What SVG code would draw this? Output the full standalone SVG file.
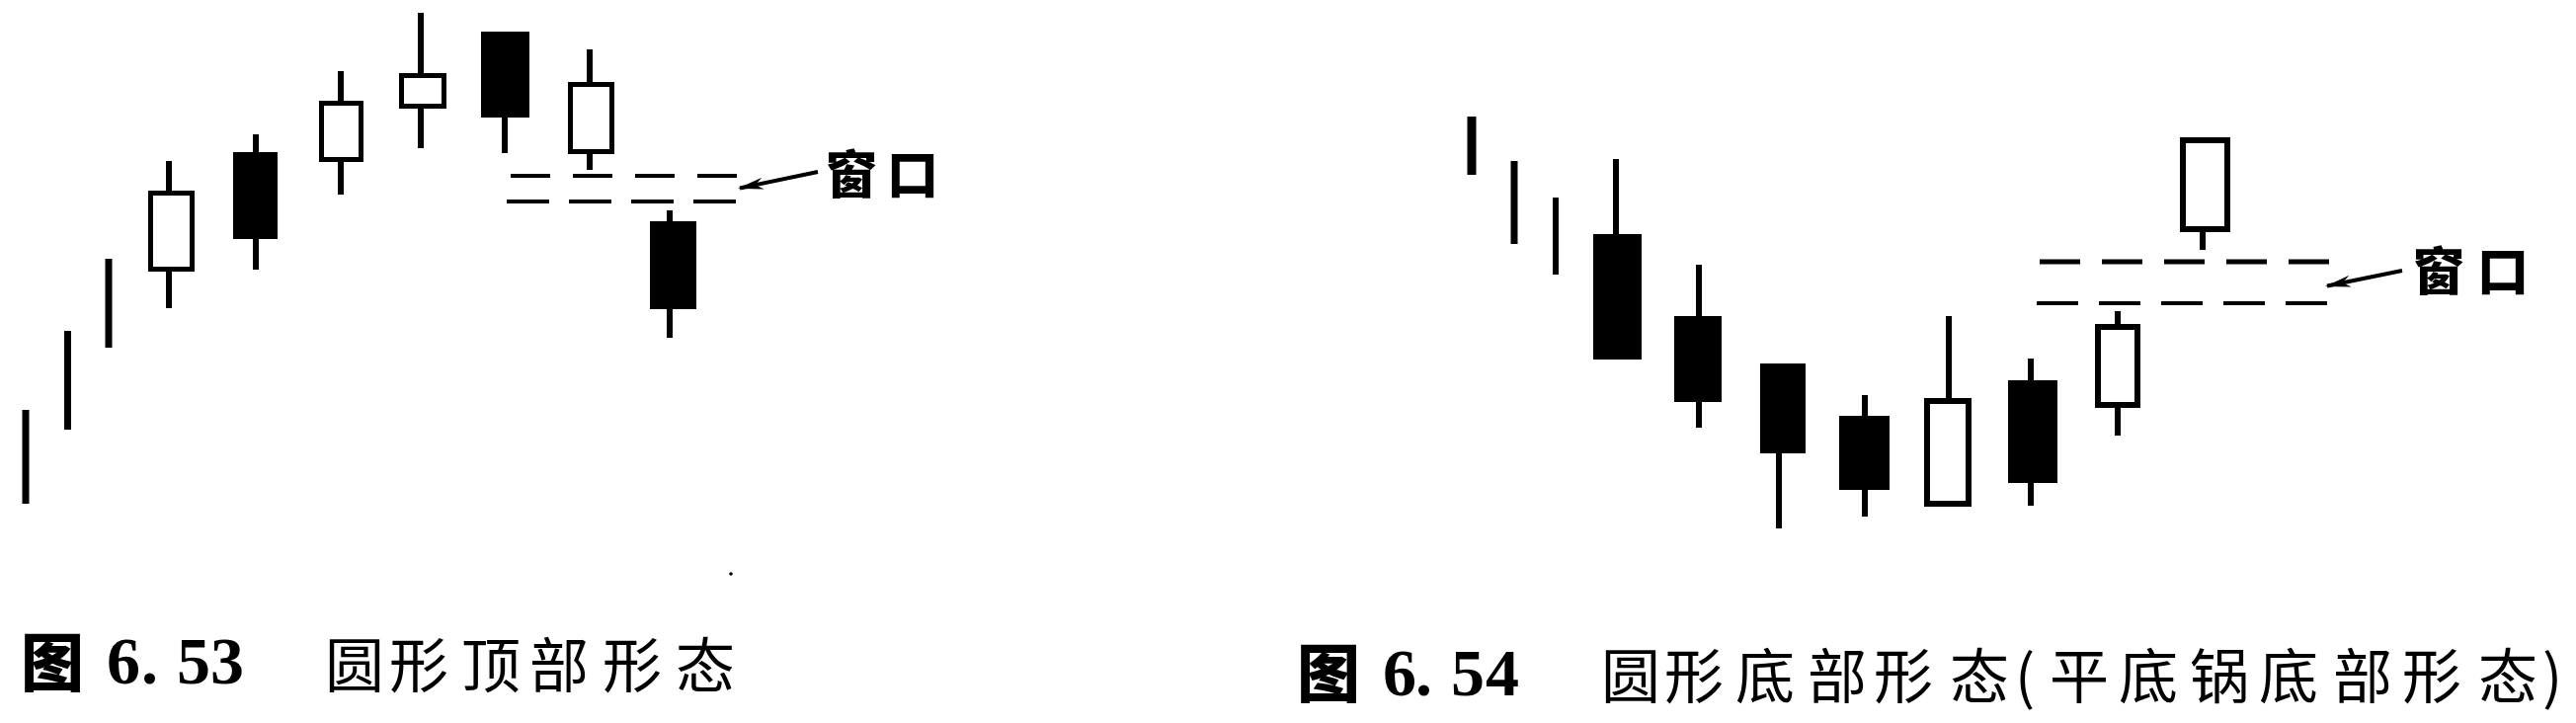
<svg xmlns="http://www.w3.org/2000/svg" width="2608" height="732" viewBox="0 0 2608 732">
  <defs>
    <style>
      .wick { stroke: #000; stroke-width: 6; fill: none; }
      .bar { stroke: #000; stroke-width: 7; fill: none; }
      .blk { fill: #000; }
      .wht { fill: #fff; stroke: #000; stroke-width: 5; }
      .wht6 { fill: #fff; stroke: #000; stroke-width: 6; }
      .dash { stroke: #000; stroke-width: 4; fill: none; }
      .arrow { stroke: #000; stroke-width: 4; fill: none; marker-end: url(#head); }
      .label { font-family: "Noto Sans CJK SC", "Noto Sans", sans-serif; font-weight: 900; font-size: 52px; fill: #000; }
      .cap { font-family: "Noto Sans CJK SC", "Noto Sans", sans-serif; font-size: 60px; fill: #000; }
      .tu { font-family: "Noto Sans CJK SC", sans-serif; font-weight: 900; font-size: 64px; fill: #000; }
      .num { font-family: "Liberation Serif", "Times New Roman", serif; font-weight: bold; font-size: 68px; fill: #000; }
    </style>
    <marker id="head" markerUnits="userSpaceOnUse" markerWidth="30" markerHeight="16" viewBox="-26 -8 30 16" refX="0" refY="0" orient="auto">
      <path d="M2,0 L-24,-6 L-16,0 L-24,6 Z" fill="#000"/>
    </marker>
  </defs>
  <rect x="0" y="0" width="2608" height="732" fill="#fff"/>

  <!-- Figure 6.53 -->
  <g id="fig653">
    <g id="L1"><line class="bar" x1="26" y1="415" x2="26" y2="510"/></g>
    <g id="L2"><line class="bar" x1="68.5" y1="335" x2="68.5" y2="435"/></g>
    <g id="L3"><line class="bar" x1="110" y1="262" x2="110" y2="352"/></g>
    <g id="L4"><line class="wick" x1="171" y1="163" x2="171" y2="312"/><rect class="wht" x="152.5" y="195.5" width="42" height="77"/></g>
    <g id="L5"><line class="wick" x1="259" y1="136" x2="259" y2="273"/><rect class="blk" x="236" y="154" width="45" height="88"/></g>
    <g id="L6"><line class="wick" x1="345" y1="72" x2="345" y2="197"/><rect class="wht" x="325.5" y="104.5" width="40" height="57"/></g>
    <g id="L7"><line class="wick" x1="426" y1="13" x2="426" y2="150"/><rect class="wht" x="406.5" y="76.5" width="43" height="31"/></g>
    <g id="L8"><line class="wick" x1="511" y1="100" x2="511" y2="155"/><rect class="blk" x="487" y="32" width="49" height="87"/></g>
    <g id="L9"><line class="wick" x1="597" y1="50" x2="597" y2="172"/><rect class="wht" x="577.5" y="85.5" width="42" height="68"/></g>
    <g id="L10"><line class="wick" x1="678" y1="213" x2="678" y2="342"/><rect class="blk" x="658" y="224" width="47" height="89"/></g>
    <g id="window653">
      <line class="dash" x1="517" y1="178" x2="746" y2="178" stroke-dasharray="40 23"/>
      <line class="dash" x1="513" y1="204" x2="745" y2="204" stroke-dasharray="43 20"/>
    </g>
    <g id="label653"><text class="label" x="836 898" y="196">窗口</text></g>
  </g>

  <!-- Figure 6.54 -->
  <g id="fig654">
    <g id="R1"><line class="bar" x1="1490" y1="118" x2="1490" y2="177" style="stroke-width:9"/></g>
    <g id="R2"><line class="bar" x1="1533" y1="163" x2="1533" y2="247"/></g>
    <g id="R3"><line class="bar" x1="1575" y1="200" x2="1575" y2="278" style="stroke-width:6"/></g>
    <g id="R4"><line class="wick" x1="1636" y1="161" x2="1636" y2="240"/><rect class="blk" x="1613" y="237" width="49" height="127"/></g>
    <g id="R5"><line class="wick" x1="1720" y1="268" x2="1720" y2="433"/><rect class="blk" x="1695" y="320" width="48" height="87"/></g>
    <g id="R6"><line class="wick" x1="1801" y1="455" x2="1801" y2="535"/><rect class="blk" x="1782" y="368" width="46" height="91"/></g>
    <g id="R7"><line class="wick" x1="1888" y1="400" x2="1888" y2="523"/><rect class="blk" x="1862" y="421" width="51" height="75"/></g>
    <g id="R8"><line class="wick" x1="1973" y1="320" x2="1973" y2="406"/><rect class="wht6" x="1951" y="406" width="42" height="104"/></g>
    <g id="R9"><line class="wick" x1="2056" y1="363" x2="2056" y2="512"/><rect class="blk" x="2033" y="385" width="50" height="104"/></g>
    <g id="R10"><line class="wick" x1="2144" y1="315" x2="2144" y2="441"/><rect class="wht6" x="2124" y="331" width="40" height="79"/></g>
    <g id="R11"><line class="wick" x1="2230" y1="230" x2="2230" y2="253"/><rect class="wht6" x="2210" y="142" width="45" height="90"/></g>
    <g id="window654">
      <line class="dash" x1="2065" y1="265" x2="2358" y2="265" stroke-dasharray="41 22" style="stroke-width:5"/>
      <line class="dash" x1="2062" y1="307" x2="2356" y2="307" stroke-dasharray="42 21"/>
    </g>
    <g id="label654"><text class="label" x="2443 2508" y="294">窗口</text></g>
  </g>

  <!-- connectors -->
  <g id="connectors">
    <line class="arrow" x1="828" y1="174" x2="749" y2="190.5"/>
    <line class="arrow" x1="2432" y1="274" x2="2356" y2="289.5"/>
  </g>

  <!-- captions -->
  <g id="caption653">
    <text class="tu" x="21" y="694">图</text>
    <text class="num" x="108 143 179 213" y="692">6.53</text>
    <text class="cap" x="329 394 467 536 610 684" y="696">圆形顶部形态</text>
  </g>
  <g id="caption654">
    <text class="tu" x="1313" y="705">图</text>
    <text class="num" x="1400 1433 1469 1504" y="704">6.54</text>
    <text class="cap" x="1621 1685 1757 1830 1897 1974 2040 2075 2145 2217 2287 2362 2432 2509 2574" y="707">圆形底部形态(平底锅底部形态)</text>
  </g>
  <circle cx="740" cy="581" r="1.8" fill="#000"/>
</svg>
